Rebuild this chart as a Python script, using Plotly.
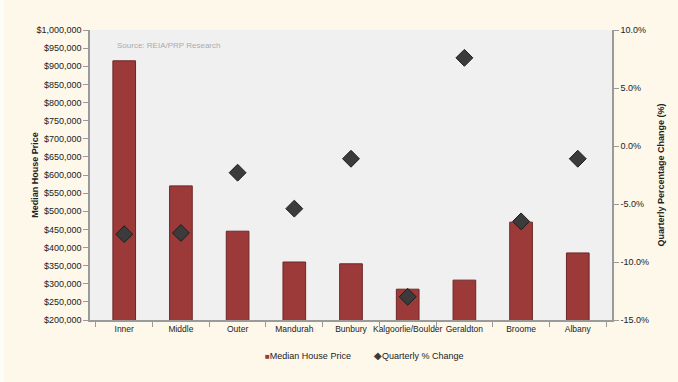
import plotly.graph_objects as go

# Regional WA housing: median price (bars) and quarterly change (diamonds)
regions = ["Inner", "Middle", "Outer", "Mandurah", "Bunbury",
           "Kalgoorlie/Boulder", "Geraldton", "Broome", "Albany"]
median_price = [915000, 570000, 445000, 360000, 355000,
                285000, 310000, 470000, 385000]
quarterly_change = [-7.6, -7.5, -2.3, -5.4, -1.1, -13.0, 7.6, -6.5, -1.1]

price_ticks = list(range(200000, 1000001, 50000))
price_labels = [f"${v:,}" for v in price_ticks]
pct_ticks = [-15, -10, -5, 0, 5, 10]
pct_labels = [f"{v:.1f}%" for v in pct_ticks]

FONT = "Liberation Sans, Arial, sans-serif"
AXIS_GREY = "#9a9a9a"
BAR_RED = "#9c3a3a"
DIAMOND = "#3b3b3b"
TEXT = "#222222"

fig = go.Figure()

fig.add_trace(go.Bar(
    x=regions, y=median_price, name="Median House Price",
    marker=dict(color=BAR_RED, line=dict(color="#6e2626", width=1)),
    width=0.4, yaxis="y", showlegend=False,
))

fig.add_trace(go.Scatter(
    x=regions, y=quarterly_change, name="Quarterly % Change",
    mode="markers", yaxis="y2", showlegend=False,
    marker=dict(symbol="diamond", size=13, color=DIAMOND,
                line=dict(color="#1e1e1e", width=1)),
))

# source note inside the plot area
fig.add_annotation(
    text="Source: REIA/PRP Research", xref="paper", yref="paper",
    x=0.047, y=0.945, xanchor="left", yanchor="middle", showarrow=False,
    font=dict(family=FONT, size=8, color="#ababab"),
)

# axis titles
fig.add_annotation(
    text="<b>Median House Price</b>", xref="paper", yref="paper",
    x=-0.106, y=0.5, textangle=-90, showarrow=False,
    xanchor="center", yanchor="middle",
    font=dict(family=FONT, size=9, color=TEXT),
)
fig.add_annotation(
    text="<b>Quarterly Percentage Change (%)</b>", xref="paper", yref="paper",
    x=1.093, y=0.5, textangle=-90, showarrow=False,
    xanchor="center", yanchor="middle",
    font=dict(family=FONT, size=9, color=TEXT),
)

# legend row below the axis
fig.add_annotation(
    text=f"<span style='color:{BAR_RED};font-size:8px'>■</span>Median House Price",
    xref="paper", yref="paper", x=0.332, y=-0.124,
    xanchor="left", yanchor="middle", showarrow=False,
    font=dict(family=FONT, size=9, color=TEXT),
)
fig.add_annotation(
    text=f"<span style='color:{DIAMOND};font-size:10px'>◆</span>Quarterly % Change",
    xref="paper", yref="paper", x=0.541, y=-0.124,
    xanchor="left", yanchor="middle", showarrow=False,
    font=dict(family=FONT, size=9, color=TEXT),
)

# faint light edge along the left of the page
fig.add_shape(type="rect", xref="paper", yref="paper",
              x0=-0.1725, x1=-0.165, y0=-0.2138, y1=1.1034,
              fillcolor="#fefdf9", line_width=0, layer="below")

fig.update_layout(
    width=678, height=382,
    margin=dict(l=90, r=66, t=30, b=62, autoexpand=False),
    paper_bgcolor="#fdf8ea",
    plot_bgcolor="#f0f0f0",
    font=dict(family=FONT, size=9, color=TEXT),
    showlegend=False,
    bargap=0.6,
    xaxis=dict(
        showline=True, linecolor=AXIS_GREY, linewidth=1.5,
        ticks="outside", tickson="boundaries", ticklen=5,
        tickcolor=AXIS_GREY, showgrid=False, tickangle=0,
        tickfont=dict(size=8.5), automargin=False,
    ),
    yaxis=dict(
        range=[200000, 1000000], tickmode="array",
        tickvals=price_ticks, ticktext=price_labels,
        showline=True, linecolor=AXIS_GREY, linewidth=1.5,
        ticks="outside", ticklen=5, tickcolor=AXIS_GREY,
        showgrid=False, zeroline=False, automargin=False,
    ),
    yaxis2=dict(
        range=[-15, 10], tickmode="array",
        tickvals=pct_ticks, ticktext=pct_labels,
        overlaying="y", side="right",
        showline=True, linecolor=AXIS_GREY, linewidth=1.5,
        ticks="outside", ticklen=5, tickcolor=AXIS_GREY,
        showgrid=False, zeroline=False, automargin=False,
    ),
)

fig.write_html("out.html")
